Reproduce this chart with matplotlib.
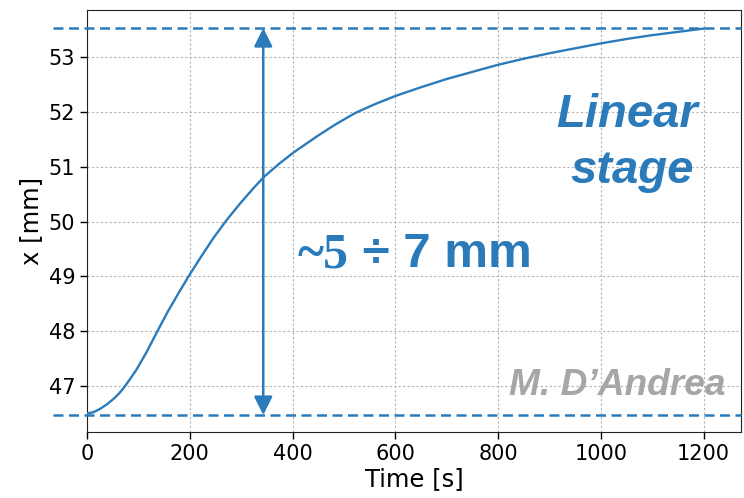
import matplotlib.pyplot as plt
from matplotlib import font_manager as fm

# position of the linear stage vs time
time_s = [0, 12, 25, 38, 51, 61, 71, 84, 97, 116, 137, 158, 181, 197, 220, 246, 272, 298,
          324, 345, 376, 402, 450, 485, 522, 560, 600, 650, 700, 750, 800, 850, 900, 950,
          1000, 1050, 1100, 1150, 1200]
pos_mm = [46.50, 46.52, 46.58, 46.66, 46.76, 46.85, 46.96, 47.13, 47.31, 47.62, 48.00, 48.37,
          48.74, 48.99, 49.33, 49.70, 50.03, 50.33, 50.61, 50.82, 51.07, 51.26, 51.57, 51.78,
          51.98, 52.14, 52.29, 52.45, 52.60, 52.73, 52.86, 52.97, 53.07, 53.16, 53.25, 53.33,
          53.40, 53.46, 53.52]

x_min_level = 46.47
x_max_level = 53.53
arrow_t = 343

blue = '#2b7bba'


def liberation(style, size):
    # pick the regular-width Liberation file (not the Narrow one)
    for f in fm.fontManager.ttflist:
        if f.name == 'Liberation Sans' and 'Narrow' not in f.fname and f.style == style \
                and f.weight in (700, 'bold'):
            return fm.FontProperties(fname=f.fname, size=size)
    return fm.FontProperties(family='Liberation Sans', weight='bold', style=style, size=size)


fig, ax = plt.subplots(figsize=(7.44, 4.98), dpi=100)
fig.subplots_adjust(left=0.117, right=0.996, bottom=0.1325, top=0.98)

ax.plot(time_s, pos_mm, color=blue, lw=1.7, zorder=3)

# dashed limits, running out past the left spine
for lvl in (x_min_level, x_max_level):
    ax.plot([-66, 1273], [lvl, lvl], color=blue, lw=1.8, ls=(0, (4, 2.2)),
            clip_on=False, zorder=3)

ax.annotate('', xy=(arrow_t, x_max_level), xytext=(arrow_t, x_min_level),
            arrowprops=dict(arrowstyle='<|-|>', color=blue, lw=1.8,
                            mutation_scale=28, shrinkA=0, shrinkB=0), zorder=4)

ax.set_xlim(0, 1273)
ax.set_ylim(46.16, 53.86)
ax.set_xticks([0, 200, 400, 600, 800, 1000, 1200])
ax.set_yticks([47, 48, 49, 50, 51, 52, 53])
ax.tick_params(labelsize=15, length=5, width=1)
ax.grid(True, ls=(0, (2, 2)), color='#b3b3b3', lw=0.8)
ax.set_axisbelow(True)
for s in ax.spines.values():
    s.set_color('#222222')
ax.set_xlabel('Time [s]', fontsize=17.5, labelpad=2)
ax.set_ylabel('x [mm]', fontsize=17.5, labelpad=4)

# annotations
ax.text(0.400, 0.390, '~5', transform=ax.transAxes, ha='right', va='baseline',
        fontsize=36, fontweight='bold', family='Liberation Serif', color=blue)
ax.text(0.400, 0.390, ' \u00f7 7 mm', transform=ax.transAxes, ha='left', va='baseline',
        fontproperties=liberation('normal', 35.5), color=blue)
ax.text(0.826, 0.722, 'Linear', transform=ax.transAxes, ha='center', va='baseline',
        fontproperties=liberation('italic', 34), color=blue)
ax.text(0.833, 0.590, 'stage', transform=ax.transAxes, ha='center', va='baseline',
        fontproperties=liberation('italic', 34), color=blue)
ax.text(0.976, 0.088, 'M. D\u2019Andrea', transform=ax.transAxes, ha='right', va='baseline',
        fontproperties=liberation('italic', 26.7), color='#a6a6a6')

fig.savefig('out.png', dpi=100)
